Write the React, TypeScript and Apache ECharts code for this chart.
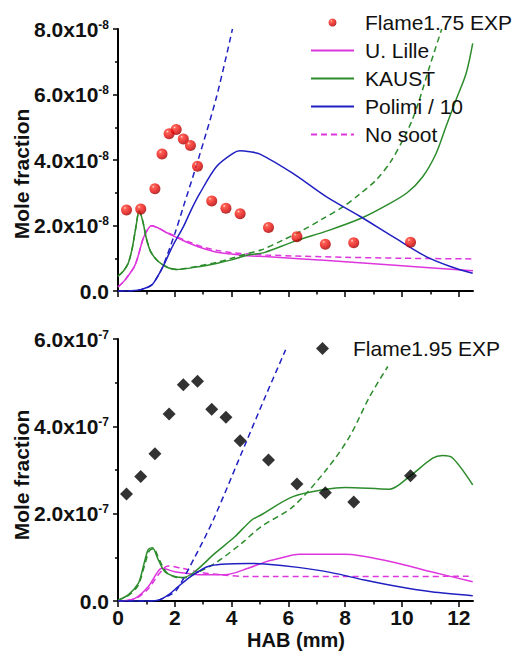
import React, { useEffect, useRef } from "react";
import * as echarts from "echarts";

// ---------- data (top: units of 1e-8, bottom: units of 1e-7) ----------
const expTopX = [0.3, 0.8, 1.3, 1.55, 1.8, 2.05, 2.3, 2.55, 2.8, 3.3, 3.8, 4.3, 5.3, 6.3, 7.3, 8.3, 10.3];
const expTopY = [2.47, 2.5, 3.12, 4.18, 4.8, 4.93, 4.64, 4.44, 3.81, 2.75, 2.53, 2.36, 1.94, 1.66, 1.43, 1.47, 1.49];

const uLilleTop = [[0, 0.12], [0.25, 0.34], [0.6, 0.79], [0.89, 1.61], [1.07, 1.91], [1.18, 1.99], [1.4, 1.93], [1.65, 1.81], [2.0, 1.66], [2.24, 1.56], [2.82, 1.35], [3.41, 1.2], [4.0, 1.13], [4.58, 1.08], [5.17, 1.05], [6.5, 0.98], [8, 0.89], [10, 0.77], [12.5, 0.62]];
const noSootTop = [[0, 0.12], [0.25, 0.34], [0.6, 0.79], [0.89, 1.61], [1.07, 1.91], [1.18, 1.99], [1.4, 1.93], [1.65, 1.82], [2.0, 1.68], [2.5, 1.5], [3.0, 1.34], [3.5, 1.24], [4.0, 1.17], [4.6, 1.13], [5.2, 1.1], [6.5, 1.06], [8, 1.03], [10, 1.0], [12.5, 0.98]];
const kaustTop = [[0, 0.45], [0.2, 0.62], [0.36, 0.85], [0.5, 1.3], [0.62, 1.9], [0.75, 2.45], [0.88, 2.1], [1.0, 1.6], [1.15, 1.2], [1.42, 0.9], [1.77, 0.71], [2.06, 0.66], [2.82, 0.74], [3.5, 0.85], [4.0, 0.95], [4.58, 1.1], [5.17, 1.18], [6.16, 1.5], [7.45, 1.86], [8.56, 2.22], [9.48, 2.63], [10.18, 3.0], [10.73, 3.49], [11.2, 4.2], [11.55, 5.02], [11.9, 5.83], [12.26, 6.65], [12.49, 7.56]];
const kaustNoSootTop = [[0, 0.45], [0.2, 0.62], [0.36, 0.85], [0.5, 1.3], [0.62, 1.9], [0.75, 2.45], [0.88, 2.1], [1.0, 1.6], [1.15, 1.2], [1.42, 0.9], [1.77, 0.71], [2.06, 0.66], [2.82, 0.76], [3.5, 0.88], [4.0, 1.0], [4.58, 1.15], [5.03, 1.25], [5.8, 1.55], [6.51, 1.86], [7.2, 2.2], [7.92, 2.57], [8.5, 2.95], [9.09, 3.39], [9.6, 3.95], [10.03, 4.61], [10.35, 5.2], [10.61, 5.83], [10.97, 6.85], [11.4, 8.0]];
const polimiTop = [[0, 0], [0.5, 0.01], [0.83, 0.05], [1.18, 0.18], [1.4, 0.45], [1.6, 0.77], [1.94, 1.4], [2.3, 1.96], [2.59, 2.5], [2.88, 2.98], [3.47, 3.8], [4.05, 4.2], [4.29, 4.28], [4.64, 4.25], [5.0, 4.18], [6.16, 3.59], [7.33, 2.88], [8.5, 2.29], [9.68, 1.66], [10.85, 1.05], [11.7, 0.75], [12.49, 0.54]];
const polimiNoSootTop = [[0, 0], [0.5, 0.01], [0.83, 0.05], [1.18, 0.18], [1.4, 0.45], [1.59, 0.77], [2.0, 1.75], [2.3, 2.57], [2.82, 4.0], [3.47, 5.93], [4.03, 8.0]];

const expBotX = [0.3, 0.8, 1.3, 1.8, 2.3, 2.8, 3.3, 3.8, 4.3, 5.3, 6.3, 7.3, 8.3, 10.3];
const expBotY = [2.45, 2.85, 3.37, 4.28, 4.95, 5.03, 4.39, 4.21, 3.67, 3.23, 2.68, 2.48, 2.27, 2.87];

const uLilleBot = [[0, 0], [0.6, 0.06], [1.07, 0.33], [1.36, 0.63], [1.54, 0.75], [2.0, 0.67], [2.59, 0.62], [3.06, 0.6], [3.76, 0.6], [4.58, 0.75], [5.17, 0.89], [5.52, 0.95], [6.4, 1.07], [7.98, 1.07], [9.62, 0.9], [11.03, 0.67], [12.49, 0.44]];
const noSootBot = [[0, 0], [0.6, 0.05], [1.07, 0.28], [1.36, 0.55], [1.65, 0.77], [1.77, 0.8], [2.24, 0.75], [2.94, 0.65], [3.64, 0.6], [4.58, 0.56], [5.52, 0.56], [8, 0.56], [10, 0.56], [12.5, 0.57]];
const kaustBot = [[0, 0.02], [0.36, 0.14], [0.71, 0.4], [0.83, 0.63], [0.95, 0.94], [1.07, 1.18], [1.21, 1.22], [1.42, 0.94], [1.65, 0.67], [2.0, 0.56], [2.3, 0.54], [2.7, 0.67], [3.41, 1.09], [4.11, 1.47], [4.7, 1.85], [5.03, 1.97], [6.16, 2.39], [7.33, 2.56], [8.0, 2.6], [9.56, 2.56], [10.26, 2.85], [11.08, 3.27], [11.43, 3.33], [11.79, 3.27], [12.49, 2.66]];
const kaustNoSootBot = [[0, 0.02], [0.36, 0.12], [0.71, 0.36], [0.95, 0.85], [1.1, 1.15], [1.25, 1.2], [1.45, 0.95], [1.7, 0.66], [2.0, 0.55], [2.3, 0.53], [2.7, 0.62], [3.41, 0.86], [4.35, 1.32], [5.03, 1.7], [6.16, 2.16], [7.33, 3.0], [8.15, 3.76], [8.86, 4.68], [9.5, 5.37]];
const polimiBot = [[0, 0], [1.0, 0], [1.42, 0.02], [1.77, 0.14], [2.12, 0.33], [2.47, 0.52], [2.82, 0.67], [3.17, 0.79], [3.64, 0.84], [4.58, 0.86], [5.17, 0.85], [6.34, 0.77], [7.51, 0.65], [8.68, 0.48], [9.85, 0.33], [11.03, 0.21], [12.49, 0.12]];
const polimiNoSootBot = [[0, 0], [1.0, 0], [1.42, 0.02], [1.77, 0.12], [2.06, 0.25], [2.7, 1.0], [3.35, 1.85], [4.52, 3.65], [5.2, 4.7], [5.9, 5.75]];

const xTicks = [0, 2, 4, 6, 8, 10, 12];
const topLegend = ["Flame1.75 EXP", "U. Lille", "KAUST", "Polimi / 10", "No soot"];
const botLegend = ["Flame1.95 EXP"];

const FONT = "Liberation Sans, Arial, Helvetica, sans-serif";
const PINK = "#de36de";
const GREEN = "#2c8c2c";
const BLUE = "#2020c2";

function zip(xs: number[], ys: number[]) {
  return xs.map((x, i) => [x, ys[i]]);
}

function yAxisCfg(gridIndex: number, max: number, exp: string) {
  return {
    type: "value",
    gridIndex,
    min: 0,
    max,
    interval: 2,
    axisLine: { show: true, lineStyle: { color: "#000", width: 2 } },
    axisTick: { show: true, inside: false, length: 5, lineStyle: { color: "#000", width: 1.5 } },
    minorTick: { show: true, splitNumber: 2, length: 3, lineStyle: { color: "#000", width: 1.5 } },
    splitLine: { show: false },
    minorSplitLine: { show: false },
    axisLabel: {
      margin: 9,
      color: "#111",
      fontSize: 21,
      fontWeight: "bold",
      fontFamily: FONT,
      formatter: (v: number) => (v === 0 ? "0.0" : v.toFixed(1) + "x10{s|" + exp + "}"),
      rich: {
        s: { fontSize: 12, fontWeight: "bold", fontFamily: FONT, color: "#111", verticalAlign: "top", lineHeight: 21 },
      },
    },
  };
}

function xAxisCfg(gridIndex: number, showLabels: boolean) {
  return {
    type: "value",
    gridIndex,
    min: 0,
    max: 12.5,
    interval: 2,
    axisLine: { show: true, onZero: false, lineStyle: { color: "#000", width: 2 } },
    axisTick: { show: true, inside: false, length: 6, lineStyle: { color: "#000", width: 1.5 }, customValues: xTicks },
    minorTick: { show: true, splitNumber: 2, length: 3.5, lineStyle: { color: "#000", width: 1.5 } },
    splitLine: { show: false },
    minorSplitLine: { show: false },
    axisLabel: {
      show: showLabels,
      margin: 6,
      color: "#111",
      fontSize: 21,
      lineHeight: 20,
      fontWeight: "bold",
      fontFamily: FONT,
      customValues: xTicks,
    },
  };
}

function line(name: string, data: number[][], color: string, dashed: boolean, idx: number) {
  return {
    name,
    type: "line",
    xAxisIndex: idx,
    yAxisIndex: idx,
    data,
    symbol: "none",
    smooth: 0.3,
    lineStyle: { color, width: 1.5, type: dashed ? [6, 4] : "solid" },
    itemStyle: { color },
    z: 2,
  };
}

export default function App() {
  const ref = useRef<HTMLDivElement>(null);
  useEffect(() => {
    if (!ref.current) return;
    const chart = echarts.init(ref.current, undefined, { renderer: "svg" });
    const sphere = new echarts.graphic.RadialGradient(0.35, 0.3, 0.7, [
      { offset: 0, color: "#ffd8d0" },
      { offset: 0.18, color: "#ff3a2a" },
      { offset: 0.7, color: "#e00808" },
      { offset: 1, color: "#a00000" },
    ]);
    const hidden = { color: "rgba(0,0,0,0)", borderWidth: 0, opacity: 0 };
    const option = {
      animation: false,
      backgroundColor: "#fff",
      grid: [
        { left: 118, top: 29, width: 355, height: 262 },
        { left: 118, top: 339, width: 355, height: 262 },
      ],
      xAxis: [xAxisCfg(0, false), xAxisCfg(1, true)],
      yAxis: [yAxisCfg(0, 8, "-8"), yAxisCfg(1, 6, "-7")],
      legend: [
        {
          data: topLegend.map((n, i) => (i === 0 ? { name: n, icon: "circle" } : { name: n, itemStyle: hidden })),
          orient: "vertical",
          left: 310,
          top: 12,
          padding: 0,
          itemWidth: 43,
          itemHeight: 8,
          itemGap: 7,
          textStyle: { fontSize: 21, fontFamily: FONT, color: "#111", lineHeight: 21, padding: [0, 0, 0, 6] },
          selectedMode: false,
        },
        {
          data: botLegend.map((n) => ({ name: n, icon: "diamond" })),
          orient: "vertical",
          left: 316,
          top: 338,
          padding: 0,
          itemWidth: 13,
          itemHeight: 13,
          textStyle: { fontSize: 21, fontFamily: FONT, color: "#111", lineHeight: 21, padding: [0, 0, 0, 19] },
          selectedMode: false,
        },
      ],
      graphic: [
        {
          type: "text",
          x: 21,
          y: 174,
          rotation: Math.PI / 2,
          style: { text: "Mole fraction", font: "bold 21px " + FONT, fill: "#111", textAlign: "center", textVerticalAlign: "middle" },
        },
        {
          type: "text",
          x: 21,
          y: 475,
          rotation: Math.PI / 2,
          style: { text: "Mole fraction", font: "bold 21px " + FONT, fill: "#111", textAlign: "center", textVerticalAlign: "middle" },
        },
        {
          type: "text",
          x: 296,
          y: 640,
          style: { text: "HAB (mm)", font: "bold 20px " + FONT, fill: "#111", textAlign: "center", textVerticalAlign: "middle" },
        },
      ],
      series: [
        line("U. Lille", uLilleTop, PINK, false, 0),
        line("No soot", noSootTop, PINK, true, 0),
        line("KAUST", kaustTop, GREEN, false, 0),
        line("KAUST no soot", kaustNoSootTop, GREEN, true, 0),
        line("Polimi / 10", polimiTop, BLUE, false, 0),
        line("Polimi no soot", polimiNoSootTop, BLUE, true, 0),
        {
          name: "Flame1.75 EXP",
          type: "scatter",
          xAxisIndex: 0,
          yAxisIndex: 0,
          data: zip(expTopX, expTopY),
          symbol: "circle",
          symbolSize: 11,
          itemStyle: { color: sphere },
          z: 5,
        },
        line("U. Lille b", uLilleBot, PINK, false, 1),
        line("No soot b", noSootBot, PINK, true, 1),
        line("KAUST b", kaustBot, GREEN, false, 1),
        line("KAUST no soot b", kaustNoSootBot, GREEN, true, 1),
        line("Polimi b", polimiBot, BLUE, false, 1),
        line("Polimi no soot b", polimiNoSootBot, BLUE, true, 1),
        {
          name: "Flame1.95 EXP",
          type: "scatter",
          xAxisIndex: 1,
          yAxisIndex: 1,
          data: zip(expBotX, expBotY),
          symbol: "diamond",
          symbolSize: 13,
          itemStyle: { color: "#000" },
          z: 5,
        },
      ],
    };
    chart.setOption(option as any);
    return () => chart.dispose();
  }, []);
  return (
    <div
      ref={ref}
      style={{ position: "fixed", left: 0, top: 0, width: 521, height: 664, background: "#fff" }}
    />
  );
}
